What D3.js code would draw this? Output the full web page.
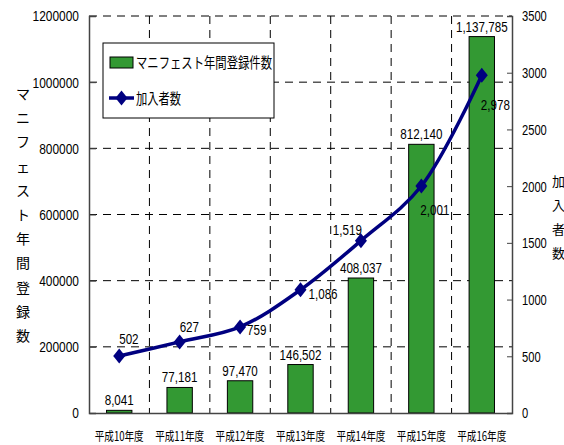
<!DOCTYPE html>
<html>
<head>
<meta charset="utf-8">
<script src="https://cdn.jsdelivr.net/npm/d3@7"></script>
<style>
  html, body { margin: 0; padding: 0; background: #fff; }
  svg { display: block; }
  .num { font-family: "Liberation Sans Narrow", "Arial Narrow", "Liberation Sans", sans-serif; }
  .jp { font-family: "Noto Sans CJK JP", sans-serif; }
</style>
</head>
<body>
<svg id="chart" width="564" height="445"></svg>
<script>
// Fiscal years (Heisei era)
const categories = ["平成10年度", "平成11年度", "平成12年度", "平成13年度", "平成14年度", "平成15年度", "平成16年度"];
// Annual manifest registrations (bars, left axis)
const registrations = [8041, 77181, 97470, 146502, 408037, 812140, 1137785];
// Number of participants (line, right axis)
const members = [502, 627, 759, 1086, 1519, 2001, 2978];
// Axis ticks
const leftTicks = [0, 200000, 400000, 600000, 800000, 1000000, 1200000];
const rightTicks = [0, 500, 1000, 1500, 2000, 2500, 3000, 3500];
const barSeriesName = "マニフェスト年間登録件数";
const lineSeriesName = "加入者数";
const leftTitle = "マニフェスト年間登録数";
const rightTitle = "加入者数";

const svg = d3.select("#chart");
const plot = { left: 89, right: 512, top: 16, bottom: 413 };

const x = d3.scaleBand().domain(categories).range([plot.left, plot.right]).paddingInner(0).paddingOuter(0);
const yL = d3.scaleLinear().domain([0, 1200000]).range([plot.bottom, plot.top]);
const yR = d3.scaleLinear().domain([0, 3500]).range([plot.bottom, plot.top]);

const fmt = d3.format(",");
const green = "#339933";
const navy = "#000080";

// Squeeze numeric text horizontally (narrow face) while keeping its anchor point
function condense(sel, factor) {
  sel.each(function () {
    const t = d3.select(this);
    const x0 = +(t.attr("x") || 0);
    t.attr("x", x0 / factor).attr("transform", `scale(${factor},1)`);
  });
}

// Marker: a diamond a little taller than wide
const diamondType = {
  draw(ctx, size) {
    const hw = 6, hh = 7.5;
    ctx.moveTo(0, -hh); ctx.lineTo(hw, 0); ctx.lineTo(0, hh); ctx.lineTo(-hw, 0); ctx.closePath();
  }
};
const diamond = d3.symbol().type(diamondType);

// Dashed gridlines: horizontal at left-axis ticks, vertical at category boundaries
const grid = svg.append("g");
grid.selectAll("line.h").data(leftTicks.filter(d => d > 0)).join("line")
  .attr("x1", plot.left).attr("x2", plot.right)
  .attr("y1", d => yL(d)).attr("y2", d => yL(d))
  .attr("stroke", "#000").attr("stroke-width", 1).attr("stroke-dasharray", "8,6");
grid.selectAll("line.v").data(categories.slice(1)).join("line")
  .attr("x1", d => x(d)).attr("x2", d => x(d))
  .attr("y1", plot.top).attr("y2", plot.bottom)
  .attr("stroke", "#000").attr("stroke-width", 1).attr("stroke-dasharray", "8,6");

// Bars
const barW = x.bandwidth() * 0.42;
svg.append("g").selectAll("rect").data(registrations).join("rect")
  .attr("x", (d, i) => x(categories[i]) + x.bandwidth() / 2 - barW / 2)
  .attr("y", d => yL(d))
  .attr("width", barW)
  .attr("height", d => yL(0) - yL(d))
  .attr("fill", green).attr("stroke", "#000").attr("stroke-width", 1);

// Bar value labels
svg.append("g").selectAll("text").data(registrations).join("text")
  .attr("class", "num")
  .attr("x", (d, i) => x(categories[i]) + x.bandwidth() / 2)
  .attr("y", d => yL(d) - 5)
  .attr("text-anchor", "middle")
  .attr("font-size", 15.5)
  .text(d => fmt(d))
  .call(condense, 0.75);

// Axes
const axisL = d3.axisLeft(yL).tickValues(leftTicks).tickSize(-7).tickPadding(10).tickFormat(d3.format("d"));
const gL = svg.append("g").attr("transform", `translate(${plot.left},0)`).call(axisL);
const axisR = d3.axisRight(yR).tickValues(rightTicks).tickSize(-5).tickPadding(10).tickFormat(d3.format("d"));
const gR = svg.append("g").attr("transform", `translate(${plot.right},0)`).call(axisR);
const axisB = d3.axisBottom(x).tickSize(0).tickPadding(19);
const gB = svg.append("g").attr("transform", `translate(0,${plot.bottom})`).call(axisB);
[gL, gR, gB].forEach(g => {
  g.select(".domain").attr("stroke", "#444").attr("stroke-width", 1.5);
  g.selectAll(".tick line").attr("stroke", "#444");
});
gL.selectAll(".tick text")
  .attr("class", "num").attr("font-size", 15.5).attr("fill", "#000")
  .attr("font-family", null)
  .call(condense, 0.77);
gR.selectAll(".tick text")
  .attr("class", "num").attr("font-size", 15.5).attr("fill", "#000")
  .attr("font-family", null)
  .call(condense, 0.72);
gB.selectAll(".tick text")
  .attr("class", "jp").attr("font-size", 12.5).attr("fill", "#000")
  .attr("font-family", null)
  .attr("textLength", 49).attr("lengthAdjust", "spacingAndGlyphs");

// Participants line (smoothed) with diamond markers
const line = d3.line()
  .x((d, i) => x(categories[i]) + x.bandwidth() / 2)
  .y(d => yR(d))
  .curve(d3.curveCatmullRom.alpha(0.5));
svg.append("path").datum(members)
  .attr("d", line).attr("fill", "none")
  .attr("stroke", navy).attr("stroke-width", 3.5);
svg.append("g").selectAll("path").data(members).join("path")
  .attr("d", diamond)
  .attr("transform", (d, i) => `translate(${x(categories[i]) + x.bandwidth() / 2},${yR(d)})`)
  .attr("fill", navy);

// Participant labels, placed around each marker
const lineLabelOffsets = [
  { dx: 0, dy: -12, anchor: "start" },
  { dx: 0, dy: -10, anchor: "start" },
  { dx: 7, dy: 8, anchor: "start" },
  { dx: 8, dy: 9, anchor: "start" },
  { dx: 1, dy: -6, anchor: "end" },
  { dx: -1, dy: 29, anchor: "start" },
  { dx: -1, dy: 35, anchor: "start" }
];
svg.append("g").selectAll("text").data(members).join("text")
  .attr("class", "num")
  .attr("x", (d, i) => x(categories[i]) + x.bandwidth() / 2 + lineLabelOffsets[i].dx)
  .attr("y", (d, i) => yR(d) + lineLabelOffsets[i].dy)
  .attr("text-anchor", (d, i) => lineLabelOffsets[i].anchor)
  .attr("font-size", 15.5)
  .text(d => fmt(d))
  .call(condense, 0.75);

// Legend
const lg = svg.append("g");
lg.append("rect").attr("x", 103).attr("y", 43).attr("width", 171).attr("height", 75)
  .attr("fill", "#fff").attr("stroke", "#000").attr("stroke-width", 1);
lg.append("rect").attr("x", 110).attr("y", 57).attr("width", 23).attr("height", 11)
  .attr("fill", green).attr("stroke", "#000").attr("stroke-width", 1);
lg.append("text").attr("class", "jp").attr("x", 136).attr("y", 68)
  .attr("font-size", 15).attr("textLength", 136).attr("lengthAdjust", "spacingAndGlyphs")
  .text(barSeriesName);
lg.append("line").attr("x1", 109).attr("x2", 134).attr("y1", 98).attr("y2", 98)
  .attr("stroke", navy).attr("stroke-width", 3.5);
lg.append("path").attr("d", diamond).attr("transform", "translate(121.5,98)").attr("fill", navy);
lg.append("text").attr("class", "jp").attr("x", 136).attr("y", 104)
  .attr("font-size", 15).attr("textLength", 45).attr("lengthAdjust", "spacingAndGlyphs")
  .text(lineSeriesName);

// Vertical axis titles, one character per line
function verticalTitle(str, cx, top, step, size) {
  svg.append("g").selectAll("text").data(Array.from(str)).join("text")
    .attr("class", "jp")
    .attr("x", cx).attr("y", (d, i) => top + i * step)
    .attr("text-anchor", "middle")
    .attr("font-size", size)
    .text(d => d);
}
verticalTitle(leftTitle, 23, 99, 24.2, 14);
verticalTitle(rightTitle, 558.5, 186, 24, 13);
</script>
</body>
</html>
